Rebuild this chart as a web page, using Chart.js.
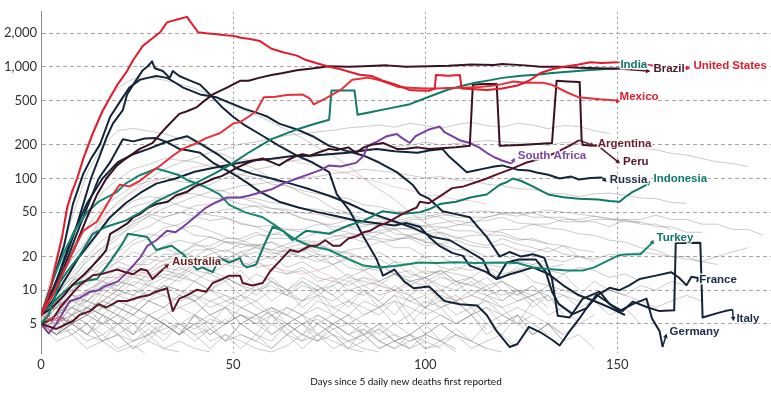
<!DOCTYPE html>
<html><head><meta charset="utf-8">
<script src="https://cdn.jsdelivr.net/npm/chart.js@4.4.1/dist/chart.umd.min.js"></script>
<style>html,body{margin:0;padding:0;background:#fff;}</style>
</head><body>
<canvas id="c" width="771" height="393"></canvas>
<script>
// ---------- axis ticks ----------
const yTicks = [5,10,20,50,100,200,500,1000,2000];
const xTicks = [0,50,100,150];

// ---------- highlighted series: [day, daily deaths] ----------
const usDeaths = [[0,6],[2,9],[4,18],[5.5,30],[6.8,55],[8,75],[9.4,100],[11,150],[13.5,254],[16,400],[18,533],[20,700],[22.4,916],[24,1150],[26.5,1540],[29,1800],[31,2040],[32.8,2500],[35.4,2650],[38,2800],[39,2500],[40.9,2040],[43,2000],[45.7,1960],[48,1920],[50,1900],[52,1820],[54.4,1775],[57,1700],[60,1450],[63,1350],[66.6,1260],[69,1150],[71.8,1075],[75,1000],[78,950],[80.4,900],[83,850],[86,828],[89,750],[92,700],[96,620],[98,615],[101,610],[102.5,640],[102.8,845],[106,830],[109,845],[109.5,640],[113,630],[116,620],[120,640],[124,680],[127,750],[130,880],[133,950],[136,1000],[140,1050],[143,1100],[146,1080],[150,1100]];
const mexicoDeaths = [[0,6],[3,9],[6,15],[9,25],[11,34],[14.5,41],[16,50],[18.7,72],[20.5,88],[23,85],[25.7,95],[28,110],[31,130],[34.3,160],[37,185],[40.6,208],[43,230],[46.5,254],[50,310],[51.8,320],[54,357],[56,400],[58,533],[61,540],[64,560],[68,566],[70,520],[71,460],[74,520],[78,620],[81,764],[83,780],[85,800],[88,760],[91,700],[93,660],[96,650],[100,640],[103,640],[106,645],[110,650],[114,660],[118,680],[120,700],[123,740],[126,720],[130.6,720],[133,690],[137,589],[140,533],[142,525],[145.4,512],[148,505],[150,500]];
const brazilDeaths = [[0,6],[3,9],[6,15],[9,25],[12,45],[14.6,72],[17,100],[19.8,131],[22,150],[25.7,184],[29,207],[31,250],[32.8,292],[36,379],[38,400],[40.6,436],[42,480],[44.7,566],[48.4,651],[51.8,749],[54,750],[57,800],[60,845],[63,880],[66.6,933],[70,960],[75,1012],[80,1000],[84,1012],[90,1030],[95,1000],[101,1012],[106,1020],[112,1050],[118,1040],[120,1060],[126,1030],[130,1000],[135,1000],[140,980],[145,970],[150,960]];
const indiaDeaths = [[0,5],[2,6],[4.9,11.8],[7,15],[10,20.3],[13.5,32],[17,37],[22,42],[26,50],[30,62],[35,75],[40,90],[45,110],[49,131],[54,170],[60,225],[66.6,275],[70,300],[75,336],[75.6,613],[81.6,613],[82.4,372],[86,394],[90,420],[96,463],[101,540],[106,626],[110,680],[113,720],[117,760],[120,796],[125,830],[129,850],[133,879],[138,910],[142,930],[146,950],[150.6,972]];
const argentinaDeaths = [[0,5],[4,4.5],[8.3,5.3],[10,6],[12.7,6.5],[15,7.5],[17,7],[20,8],[22.4,8],[25.7,8.7],[28,9],[30,9.7],[32.8,10.4],[34.3,6.5],[36,8.4],[38,9],[40.6,10.1],[43,9.7],[44.7,11.6],[47,12.5],[49,13.5],[51.8,13.5],[52.5,11.6],[55,11],[57.7,11.6],[59.6,14.7],[62,18],[64.8,22.9],[67,22],[70,25],[71.8,25],[74,28],[76,25],[77.8,25],[80,29],[82,30.3],[84,33],[85.6,34],[88,38],[90,40],[92.6,45],[95,50],[97.8,55],[98.6,62],[101,60],[104,70],[107,82],[110,85],[113,92],[116,100],[119,110],[122,120],[124.6,131],[126.4,139],[130,150],[134,170],[138,200],[140,220]];
const peruDeaths = [[0,6],[3,7],[6,9],[8,11],[11,13.6],[13,16],[15.3,19.4],[17,23],[18,32],[20,35],[22.4,39.4],[24,45],[25.7,48],[28,55],[30,59],[33,62],[35,70],[38,76],[40,85],[42,90],[45,100],[47,105],[49,114],[51,125],[54,139],[55.5,145],[57.7,151],[60,140],[62,131],[64,145],[66.6,160],[68,165],[70,160],[72,170],[75,184],[77,180],[80,190],[82,170],[84,190],[86,200],[89,208],[91,195],[92.6,184],[95,185],[98,190],[101,184],[105,188],[108,190],[111.6,196],[112.4,692],[115,700],[118.6,700],[119.4,196],[125,200],[129,204],[133,208],[134.2,749],[137,740],[140.2,730],[140.7,225],[141,200],[145,196]];
const australiaDeaths = [[0,5],[3,5.5],[5,7],[8.3,9.5],[10,11],[13.5,13.6],[16,14],[19.8,15.3],[22,14.5],[24,13.9],[26,15.5],[27.6,15],[29,12.6],[31.7,15.3]];
const southAfricaDeaths = [[0,5],[2,4.1],[4,5],[7.5,8],[10,8.5],[12.7,9.7],[15,10],[17,11],[20,12],[22,14],[24,16.6],[26,20],[27.6,24.8],[30,28],[32.8,34],[35,33],[37,37],[40,45],[43,55],[45,60],[48.4,67.6],[51.8,67.6],[54,70],[57.7,76],[60,80],[63,90],[66.6,100],[70,110],[73,120],[75,131],[78,128],[82,138],[84,160],[85,196],[87,210],[90,239],[92.6,250],[94,230],[96,208],[97.5,240],[101,275],[103.8,292],[105,260],[107,239],[109,220],[111.6,208],[114,190],[116,170],[118,155],[120,145],[122.5,136]];
const turkeyDeaths = [[0,6],[3,12],[6,22],[9,35],[12,50],[15,62],[19.8,76],[22,90],[25.7,107],[28,115],[30,123],[33,115],[36,107],[38,97],[41.4,88],[44,80],[46.5,72],[49,58],[53,50],[57.7,45],[61,38],[64,32],[66.6,28],[70,25],[75,22.9],[80,19],[84,16.6],[88,16],[92,16.5],[95,17],[98.6,17.7],[103,17.5],[108,17.8],[113,17.5],[119.4,17.7],[124,17.5],[128,16],[132,15.5],[137,15],[141,15],[144,16],[147,18],[150.6,20.7],[153,21],[156,21],[159,26.4]];
const indonesiaDeaths = [[0,6],[1.5,6.8],[5,9],[8.3,11.1],[11,12],[14.6,12.6],[18,18],[21.3,26.4],[22.6,32],[25,31],[27.6,30],[30,22.9],[32,24],[34,25],[37,21],[40.6,15.3],[42,16],[44.7,14.5],[46.5,19.4],[49,17.7],[51.8,19.4],[52.5,17],[53.6,16],[56,17],[58,25],[60.3,37],[63,34],[65.5,28],[69,34],[72,33],[75,32],[80,38],[84,42],[89,51],[94,48],[98.6,50],[101,53],[103.8,59],[108,62],[112,68],[116,72],[119.4,88],[121,92],[122.8,100],[125,95],[128,85],[132,72],[136,68],[140,66],[145,65],[148,63],[150.6,62],[152,68],[154,76],[156,82],[157.6,88]];
const russiaDeaths = [[0,6],[3,8],[6,12],[10,20],[14,30],[18,45],[22,60],[26,75],[30,90],[35,100],[40,115],[45,125],[50,135],[55,145],[60,150],[65,158],[70,160],[75,165],[80,170],[85,180],[87.4,184],[92,175],[98,170],[101,178],[104.5,184],[106,160],[108,139],[110.8,114],[113,118],[115,122],[118,128],[120,131],[124,120],[127,118],[129,113],[132,108],[135,100],[138,104],[140,98],[143,101],[146,102]];
const franceDeaths = [[0,6],[3,10],[6,18],[9,35],[11,59],[13,100],[15.3,160],[17,230],[18.7,310],[21.3,410],[22.4,566],[24,692],[26.5,933],[27.8,1012],[28.9,1119],[29.6,972],[31.7,916],[33.5,796],[34.3,916],[36,828],[38.5,760],[41.4,692],[44.7,533],[47,440],[50,357],[53,300],[57,249],[62,196],[66.6,160],[70.7,139],[73,125],[75,114],[77,72],[80.4,51],[84,30],[87.4,18.8],[89,13.5],[92,15.3],[94.5,12],[97,10.4],[101,10.8],[105,8],[109,7.5],[113.5,7.3],[116,6],[118.6,4.3],[122,3.1],[124,3.3],[127,4.7],[130,4.2],[133,3.6],[135,3.2],[137.6,4.3],[140,5.5],[142,6.9],[145,9.1],[148,10.5],[150.6,10],[153,11],[155.8,12.6],[160,13.5],[164,14.5],[166,13],[168,11.1],[169.3,13.2],[171.4,12.8]];
const italyDeaths = [[0,6],[3,12],[6,25],[8.3,59],[11,110],[13,150],[15.3,200],[18,357],[21.3,533],[23,651],[25.7,764],[28,800],[30,828],[32.8,796],[35,720],[37,651],[41.4,566],[45.7,533],[50,463],[53,420],[57,379],[59,357],[62,310],[66.6,275],[70.7,239],[75,196],[80,175],[84,160],[88,139],[92.6,114],[96.7,88],[98.6,72],[101,66],[104.5,51],[108,48],[111.6,45],[114,36],[116,30],[119.4,20],[122,22],[125,20],[128,21],[131,19.5],[133,12.6],[134.5,5.9],[137.6,5.7],[141,8.4],[145.4,9.7],[148,7.5],[151.4,6.5],[154,7.9],[158,7],[161,6.5],[164.8,6.6],[165.2,26.4],[171.6,26.6],[172.2,5.7],[175.8,6.2],[178,6.5],[180,6.7]];
const germanyDeaths = [[0,6],[3,9],[6,16],[9,30],[12,55],[15,100],[18,140],[21.3,225],[24,215],[27,228],[30,230],[33,210],[36,184],[38.5,178],[41.4,170],[44.7,139],[48,120],[51,105],[54,90],[57,76],[62,62],[67,55],[72,50],[77,46],[82,42],[87,40],[92,38],[95,40],[98.6,37],[101,30],[103.8,24.8],[107,21.6],[109.8,20.3],[111.6,16.6],[116,14.5],[118.6,12.6],[121.2,17.7],[124.4,18.8],[128.8,18.8],[131.4,14.5],[133,9.7],[134.8,7.5],[138.4,6.1],[142,6.9],[144.6,9.1],[147,8],[150.6,6.5],[154,7.5],[157.6,8.4],[159,5.6],[161,4.3],[161.8,3.1]];
const otherDarkDeaths = [[0,6],[4,12],[8,30],[12,60],[16,100],[20,140],[24,165],[28,184],[31.7,207],[35,225],[38,239],[42,200],[46.5,160],[51,123],[55,110],[60,100],[65,90],[70,80],[75,70],[80,60],[85,50],[91.5,41.8],[97,36],[102,30],[106.4,28],[110.8,22.9],[115,18.8],[116.8,13.9],[118.6,12.6],[122,13.9],[124.6,14.7],[128,16],[132,14],[136,11],[140,9],[144,8],[148,7],[152,6]];

// ---------- background countries: daily deaths every 4 days from day 0 ----------
const greyLines = [
 [6,11,19,28,44,62,78,98,121,138,152,171,183,204,212,228,243,251,262,270,284,291,302,288,312,298,281,303,318,297,289,312,301,279,298,292,268,252],
 [5,7,11,14,23,29,41,49,62,68,82,88,102,108,121,128,142,148,162,168,176,182,184,193,198,212,199,206,211,219,214,208,206,198,211,204,199,196,201,188,181,168,162,151,141,136,128],
 [6,16,44,112,196,268,281,266,252,228,212,178,162,138,121,99,86,74,66,54,49,41,39,32,31,27,26,21,20],
 [5,10,23,44,76,98,122,133,151,146,141,128,121,108,101,89,86,78,73,69,66,58,56,51,50,47,45,39,38,34,33,29,28,26,25,23,22],
 [5,8,12,19,24,33,39,46,54,61,69,76,79,86,89,93,94,101,104,111,114,121,117,113,107,101,104,97,96,89,86,81,80,74,73,69,73,74,71,67,66,61,60],
 [5,7,9,12,17,19,26,29,36,39,46,49,53,54,57,54,53,49,48,44,43,39,38,35,36,32,33,29,31,31,35,35,39,39,43,43,46,43,43,39,39,35],
 [5,4,6,5,7,6,9,8,11,9,12,10,8,9,7,6,5,4,5,4,3.5,4,3,3.5,3],
 [5,6,4,5,3.5,4,3,3.5,3,2.8],
 [6,8,7,10,9,12,11,14,13,16,14,12,13,11,10,12,9,8,10,7,8,6,7,5,6,4,5,4],
 [5,7,10,14,18,22,28,32,30,35,38,34,30,28,25,27,22,20,18,20,16,15,17,14,12,13,11,10,12,9,10,8,9,7],
 [5,5,6,7,8,10,9,12,14,13,16,18,17,20,22,19,24,26,22,28,30,27,32,35,30,28,33,30,27,25,29,26,24,22,25,20,18],
 [6,9,13,18,24,31,37,46,40,37,31,30,27,26,25,23,22,24,21,20,23,24,27,28,31,33,36,38,41,42,45,40,39,36,35,32,31,28,27,24,23,20,20,18,17],
 [5,4,5,6,5,7,6,8,7,9,8,6,7,5,6,4,5,4,3.5,4.5,3.5,4,3,3.5,4,3,3.2,4,3.5,5,4,6,5,4],
 [6,5,7,6,8,10,9,11,13,12,15,14,17,16,18,15,14,16,13,12,14,11,12,10,9,11,8,9,7,8,6,7,6],
 [5,6,5,4,6,5,7,6,5,4,5,3.5,4,3,4,3.5,5,4,6,5,4,5,3.5,4,3,3.5],
 [6,10,17,23,36,47,56,61,71,74,73,67,66,59,56,49,49,44,41,37,37,33,33,29,29,25,26,23,23,20,21,18,19,16,17],
 [5,6,8,9,11,13,15,14,17,19,18,21,23,20,25,27,24,22,26,23,21,19,22,18,17,20,16,15,18,14,13,16,12,11,14,10],
 [5,4,5,4,6,5,4,5,6,7,6,8,7,9,8,10,9,11,10,12,11,13,12,14,13,15,14,16,15,17,16,18,17,19,18,20,19,21,20,22,21,20,19,18,20,22,24],
 [6,7,9,8,11,10,13,12,15,14,17,16,19,18,16,17,14,15,12,13,10,11,9,10,8,9,7,8,6,7,5,6,4,5,3.5,4,3],
 [5,8,12,14,21,25,33,37,45,49,57,59,65,67,66,61,59,54,53,49,48,44,44,40,41,37,37,34,34,31,31,28,29,26],
 [5,6,5,7,6,8,7,6,7,5,6,4,5,6,5,7,6,8,9,8,10,9,11,10,12,11,13,12,11,10,9,10,8,9,7],
 [6,5,4,5,3.5,4,3,4,5,4,6,5,7,6,5,6,4,5,4,3.5,3,3.5],
 [6,12,23,37,56,69,86,94,101,94,91,81,76,67,61,54,51,44,41,35,33,29,28,24,24,20,20,17],
 [5,7,8,10,12,11,14,13,16,15,18,20,19,22,24,23,26,28,27,30,32,31,34,36,35,38,40,42,40,45,48,46,50,52,50,48,46,44,42,40],
 [5,6,8,8,11,11,15,15,19,19,23,23,27,27,31,31,35,35,39,39,43,39,39,39,43,43,47,47,51,51,49,49,45,45,41,41,43,43,41,41,37,37,33,33],
 [6,8,12,16,14,18,22,20,25,28,26,30,27,24,26,22,20,23,19,17,20,16,15,18,14,13,15,12,11,13,10,9,11,8,9,7,8,6,7,5],
 [5,4,5,6,5,4,3.5,4,3,3.5,3,2.8],
 [6,7,6,8,7,9,10,9,11,10,9,8,9,7,8,6,7,6,5,6,5,4,5,4,3.5,4,3.5,3],
 [5,9,14,20,28,35,42,48,45,50,46,42,44,40,37,38,35,33,34,31,30,32,29,28,30,27,26,28,25,24,26,23,22,24,21,20],
 [5,6,5,6,7,6,5,6,5,4,5,4,5,6,5,4,5,6,7,6,5,6,7,8,7,6,7,8,9,8,7,8,9,10,9,8,9,10,9,8,7,8,9,8],
 [6,11,19,27,41,51,63,69,66,57,53,47,45,39,37,32,31,27,26,22,22,19,19,16,17,14,15,12,13,11,12,10,10,9],
 [5,4,4.5,3.5,4,3,3.5,4,4.5,5,4.5,5.5,5,6,5.5,6.5,6,5,5.5,4.5,5,4,4.5,3.5,4,3.5,3],
 [5,6,9,9,13,13,17,17,21,21,25,25,29,29,33,29,29,29,33,33,37,37,41,41,45,45,49,45,45,45,49,49,49,45,45,41,41,37,43,43,47,43,43,39,39,35,35,31],
 [6,20,70,200,420,650,780,800,760,700,640,560,480,420,370,320,270,230,190,160,130,100,80,65,50,40,32,26,20,16,12,10,8],
 [5,3.5,4,3,3.5,2.8,3.2,2.6],
 [6,5,6,7,6,5,6,5,4,5,4,4.5,3.5,4,3.5,3,4,3.5,4,3,3.5,3,2.8],
 [5,6,7,8,7,9,8,10,9,8,9,7,8,7,6,7,6,5,6,5,6,5,4,5,4,5,6,5,6,7,6,5,6,5,4,5],
 [6,8,10,13,12,16,15,19,18,22,20,24,22,26,24,21,23,19,21,17,19,15,17,14,15,12,14,11,13,10,12,9,11,8],
 [5,4,6,5,4,5,3.5,4.5,3.5,5,4,3,4,3.5,3,2.8,3.2,4,3.5,5,4,4.5,3.5,3,3.5,4,5,4,3.5,3],
 [6,7,5,6,8,7,6,8,9,7,8,6,7,5,6,7,5,6,4,5,6,4,5,3.5,4,5,3.5,4,3,3.5,4,3],
 [5,5,7,6,9,8,7,9,11,10,8,10,12,9,11,8,10,7,9,6,8,7,6,8,5,7,6,5,6,4,5,6,4,5,3.5],
 [6,4,5,7,6,4,5,3.5,5,4,6,4.5,3.5,5,4,3,4,5,3.5,4,3,2.8],
 [5,8,6,9,12,10,14,11,16,13,18,14,12,15,11,13,10,12,9,11,8,10,7,9,6,8,7,5,6,4.5],
 [6,6,8,7,10,9,12,11,10,13,12,15,13,11,14,12,10,13,11,9,12,10,8,11,9,7,10,8,6,9,7,5,8,6,7,5,6],
 [5,4,5,4,3.5,5,4,6,5,4,5,6,5,7,6,5,7,6,8,7,6,8,7,9,8,7,9,8,10,9,8,10,9,11,10,9,12,10,9,11,10,12,11],
 [6,9,13,11,15,18,16,20,24,21,26,23,19,22,18,20,16,18,15,17,13,15,12,14,11,13,10,12,9,11,8,10,7,9,6],
 [5,6,5,7,5,6,4,6,5,4,6,5,3.5,5,4,6,4.5,3.5,5,4,3,4.5,3.5,3,4,3,3.5,2.8],
 [6,7,9,8,10,12,11,9,12,14,12,10,13,11,9,12,10,8,11,9,7,10,8,6,9,7,8,6,7,5,6,5,4,5,4],
 [5,6,7,6,8,7,6,8,7,9,8,10,9,8,10,11,9,12,10,11,13,12,11,14,12,13,15,14,13,16,14,15,17,15,14,16,15,13,14,12],
 [5,4.5,5.5,4,5,6,5,4,5.5,4.5,3.5,4.5,5.5,4,3.5,5,4,3,4,5,4,3.5,4.5,3.5,3,4,3.5,4.5,3.5,3,2.8]
];
const pinkLines = [
 [6,12,21,29,46,59,76,89,101,113,126,133,141,147,151,149,146,137,131,119,111,99,93,84,79,71,70,65,63,59],
 [5,6,8,10,12,14,13,15,17,16,18,20,19,17,18,16,15,14,15,13,12,13,11,10,11,9,10,8,9,8]
];
const greyStepDays = 4;

// ---------- styles (kept apart from data) ----------
const C = {red:'#e31b2b', red2:'#e8303a', maroon:'#3b1020', maroon2:'#5e1326', teal:'#0f7a68', teal2:'#13876f', purple:'#7a3fa0', navy:'#13243a'};
const highlighted = [
 {name:'United States', data:usDeaths, color:C.red},
 {name:'Mexico', data:mexicoDeaths, color:C.red2},
 {name:'Brazil', data:brazilDeaths, color:C.maroon},
 {name:'India', data:indiaDeaths, color:C.teal},
 {name:'Argentina', data:argentinaDeaths, color:C.maroon2},
 {name:'Peru', data:peruDeaths, color:C.maroon},
 {name:'Australia', data:australiaDeaths, color:C.maroon2},
 {name:'South Africa', data:southAfricaDeaths, color:C.purple},
 {name:'Turkey', data:turkeyDeaths, color:C.teal2},
 {name:'Indonesia', data:indonesiaDeaths, color:C.teal},
 {name:'Russia', data:russiaDeaths, color:C.navy},
 {name:'France', data:franceDeaths, color:C.navy},
 {name:'Italy', data:italyDeaths, color:C.navy},
 {name:'Germany', data:germanyDeaths, color:C.navy},
 {name:'Other', data:otherDarkDeaths, color:C.navy}
];
// label anchor positions in data units [day, deaths]
const labelDefs = [
 {text:'India', series:indiaDeaths, at:[150.8,1032], color:'#0f7a68', arrow:false},
 {text:'Brazil', series:brazilDeaths, at:[159.4,953], color:'#4a1a2a', arrow:true},
 {text:'United States', series:usDeaths, at:[169.8,1012], color:'#e31b2b', arrow:true},
 {text:'Mexico', series:mexicoDeaths, at:[150.6,543], color:'#e31b2b', arrow:true},
 {text:'Argentina', series:argentinaDeaths, at:[144.9,204], color:'#6b1b2b', arrow:true},
 {text:'Peru', series:peruDeaths, at:[151.5,142], color:'#5a1525', arrow:true},
 {text:'South Africa', series:southAfricaDeaths, at:[124.1,160], color:'#7d48a6', arrow:true},
 {text:'Russia', series:russiaDeaths, at:[148,97], color:'#1b2d4a', arrow:true},
 {text:'Indonesia', series:indonesiaDeaths, at:[159.4,99], color:'#0f7a68', arrow:true},
 {text:'Turkey', series:turkeyDeaths, at:[160.2,29.7], color:'#0f7a68', arrow:true},
 {text:'France', series:franceDeaths, at:[171.3,12.3], color:'#1b2d4a', arrow:true},
 {text:'Italy', series:italyDeaths, at:[181,5.5], color:'#1b2d4a', arrow:true},
 {text:'Germany', series:germanyDeaths, at:[163.6,4.26], color:'#1b2d4a', arrow:true},
 {text:'Australia', series:australiaDeaths, at:[34.1,18], color:'#6a1d1d', arrow:true}
];
const smallLabel = {text:'Spain', at:[1.3,5.5], color:'#c0506a'};

// ---------- build datasets ----------
const toXY = arr => arr.map(p => ({x:p[0], y:p[1]}));
const stepXY = vals => vals.map((v,i) => ({x:i*greyStepDays, y:v}));
const datasets = [];
highlighted.forEach(h => datasets.push({label:h.name, data:toXY(h.data), borderColor:h.color, borderWidth:2, order:0, borderJoinStyle:'round'}));
greyLines.forEach((g,i) => datasets.push({label:'grey'+i, data:stepXY(g), borderColor:'rgba(140,140,140,0.5)', borderWidth:0.9, order:10}));
pinkLines.forEach((g,i) => datasets.push({label:'pink'+i, data:stepXY(g), borderColor:'rgba(225,140,150,0.45)', borderWidth:0.9, order:9}));

function drawArrow(ctx, x0, y0, x1, y1, color){
  const ang = Math.atan2(y1-y0, x1-x0), L = Math.hypot(x1-x0, y1-y0);
  if (L < 2) return;
  ctx.strokeStyle = color; ctx.fillStyle = color; ctx.lineWidth = 1.5;
  if (L > 5){ ctx.beginPath(); ctx.moveTo(x0,y0); ctx.lineTo(x1-3*Math.cos(ang), y1-3*Math.sin(ang)); ctx.stroke(); }
  const h = 5;
  ctx.beginPath(); ctx.moveTo(x1,y1);
  ctx.lineTo(x1-h*Math.cos(ang-0.5), y1-h*Math.sin(ang-0.5));
  ctx.lineTo(x1-h*Math.cos(ang+0.5), y1-h*Math.sin(ang+0.5));
  ctx.closePath(); ctx.fill();
}

const labelPlugin = {
  id:'countryLabels',
  afterDatasetsDraw(chart){
    const {ctx, scales:{x, y}} = chart;
    ctx.save();
    labelDefs.forEach(l => {
      if (!l.arrow) return;
      const last = l.series[l.series.length-1];
      const x0 = x.getPixelForValue(last[0]), y0 = y.getPixelForValue(last[1]);
      const tx = x.getPixelForValue(l.at[0]) - 3, ty = y.getPixelForValue(l.at[1]) + 2;
      drawArrow(ctx, x0, y0, tx, ty, l.color);
    });
    ctx.font = 'bold 11.5px "Liberation Sans", Arial, sans-serif';
    ctx.textBaseline = 'middle'; ctx.textAlign = 'left'; ctx.lineJoin = 'round';
    labelDefs.forEach(l => {
      const px = x.getPixelForValue(l.at[0]), py = y.getPixelForValue(l.at[1]);
      ctx.lineWidth = 3; ctx.strokeStyle = 'rgba(255,255,255,0.85)';
      ctx.strokeText(l.text, px, py);
      ctx.fillStyle = l.color; ctx.fillText(l.text, px, py);
    });
    ctx.font = 'bold 7px "Liberation Sans", Arial, sans-serif';
    ctx.fillStyle = smallLabel.color;
    ctx.fillText(smallLabel.text, x.getPixelForValue(smallLabel.at[0]), y.getPixelForValue(smallLabel.at[1]));
    ctx.restore();
  }
};

new Chart(document.getElementById('c'), {
  type:'line',
  data:{datasets},
  options:{
    responsive:false, animation:false,
    layout:{padding:{top:2, left:0, right:0, bottom:0}},
    plugins:{legend:{display:false}, tooltip:{enabled:false}},
    elements:{point:{radius:0}, line:{tension:0}},
    scales:{
      x:{
        type:'linear', min:0, max:190,
        afterBuildTicks: s => { s.ticks = xTicks.map(v => ({value:v})); },
        afterFit: s => { s.height = 40; },
        grid:{drawTicks:false, lineWidth:1, color: c => (c.tick && c.tick.value === 0) ? 'rgba(0,0,0,0)' : '#9a9a9a'},
        border:{display:false, dash:[2,3]},
        ticks:{padding:4, maxRotation:0, autoSkip:false, color:'#333', font:{family:'Lato', size:13}},
        title:{display:true, text:'Days since 5 daily new deaths first reported', color:'#111', font:{family:'Lato', size:10}, padding:{top:0, bottom:5}}
      },
      y:{
        type:'logarithmic', min:2.74, max:3108,
        afterBuildTicks: s => { s.ticks = yTicks.map(v => ({value:v})); },
        afterFit: s => { s.width = 41; },
        grid:{drawTicks:false, lineWidth:1, color:'#a5a5a5'},
        border:{display:true, color:'#8a8a8a', width:1, dash:[4,3]},
        ticks:{padding:4, autoSkip:false, color:'#333', font:{family:'Lato', size:13}, callback: v => Number(v).toLocaleString('en-US')}
      }
    }
  },
  plugins:[labelPlugin]
});
</script>
</body></html>
